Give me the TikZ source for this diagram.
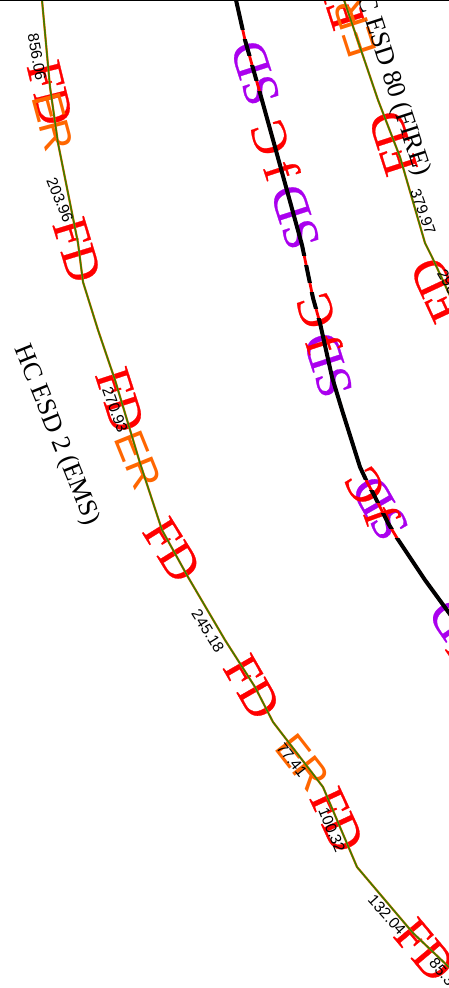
\documentclass[tikz,border=0pt]{standalone}
\usepackage{fontspec}
\setmainfont{Liberation Serif}
\newfontfamily\arialf{Liberation Sans}
\newfontfamily\fatserif[FakeBold=0.5]{Liberation Serif}
\definecolor{lineorange}{HTML}{FF6600}
\definecolor{linegreen}{HTML}{3A7D00}
\definecolor{sdpurple}{HTML}{AA00EE}
\tikzset{
  fdtext/.style={inner sep=0pt,text=red,font=\fatserif\fontsize{50}{50}\selectfont},
  ertext/.style={inner sep=0pt,text=lineorange,font=\arialf\fontsize{42}{42}\selectfont},
  sdtext/.style={inner sep=0pt,text=sdpurple,font=\fatserif\fontsize{50}{50}\selectfont},
  fctext/.style={inner sep=0pt,text=red,font=\fatserif\fontsize{50}{50}\selectfont},
  lenlabel/.style={inner sep=0pt,text=black,font=\arialf\fontsize{15.5}{15.5}\selectfont},
  esdlabel/.style={inner sep=0pt,text=black,font=\fontsize{26.5}{26.5}\selectfont},
  routeunder/.style={draw=lineorange,line width=2.2pt,line join=round},
  routeover/.style={draw=linegreen,line width=1.5pt,line join=round},
  mainred/.style={draw=red,line width=2.8pt,line join=round},
  mainblack/.style={draw=black,line width=4pt,line join=round}
}
\def\routeA{(42,0) -- (50,87) -- (58,143) -- (78,243) -- (83,282) -- (98,330) -- (115,380) -- (140,463) -- (162,530) -- (188,577) -- (225,640) -- (255,687) -- (273,722) -- (323,787) -- (337,820) -- (357,867) -- (413,933) -- (452,970)}
\def\routeB{(344,0) -- (378,100) -- (400,157) -- (425,243) -- (432,257) -- (452,300)}
\def\mainline{(236,0) -- (245,40) -- (260,93) -- (275,147) -- (302,245) -- (313,298) -- (320,323) -- (332,377) -- (342,410) -- (360,467) -- (367,482) -- (373,493) -- (388,523) -- (397,538) -- (425,580) -- (452,617)}
\begin{document}
\begin{tikzpicture}[x=1pt,y=-1pt]
\path[use as bounding box,clip] (0,0) rectangle (449,988);
\fill[white] (0,0) rectangle (449,988);
% left route labels
\node[fdtext,rotate=-76] (fda) at (50,93) {FD};
\node[fdtext,rotate=-73] (fdb) at (77,250) {FD};
\node[fdtext,rotate=-72] (fdc) at (120,400) {FD};
\node[fdtext,rotate=-58] (fdd) at (172,550) {FD};
\node[fdtext,rotate=-60] (fde) at (252,687) {FD};
\node[fdtext,rotate=-65] (fdf) at (337,820) {FD};
\node[fdtext,rotate=-50] (fdg) at (425,950) {FD};
\node[ertext,rotate=-75] (era) at (53,122) {ER};
\node[ertext,rotate=-68] (erb) at (138,460) {ER};
\node[ertext,rotate=-52] (erc) at (303,763) {ER};
% right route labels
\node[fdtext,rotate=108] (fdh) at (340,-3) {FD};
\node[ertext,rotate=108] (erd) at (355,28) {ER};
\node[fdtext,rotate=108] (fdi) at (393,143) {FD};
\node[fdtext,rotate=115] (fdj) at (437,290) {FD};
% main line labels
\node[sdtext,rotate=108] (sda) at (255,73) {SD};
\node[fctext,rotate=108] (ca) at (270,138) {C};
\node[fctext,rotate=-72] (fa) at (282,170) {f};
\node[sdtext,rotate=108] (sdb) at (295,217) {SD};
\node[sdtext,rotate=108] (sdc) at (328,365) {SD};
\node[fctext,rotate=108] (cb) at (316,311) {C};
\node[fctext,rotate=-72] (fb) at (324,344) {f};
\node[sdtext,rotate=120] (sdd) at (380,508) {SD};
\node[fctext,rotate=120] (cc) at (365,486) {C};
\node[fctext,rotate=-70] (fc) at (382,515) {f};
\node[sdtext,rotate=125] (sde) at (458,631) {SD};
\node[fctext,rotate=-55] (fd) at (463,645) {f};
% routes
\draw[routeunder] \routeA;
\draw[routeover] \routeA;
\draw[routeunder] \routeB;
\draw[routeover] \routeB;
\draw[mainred] \mainline;
\foreach \ya/\yb in {-2/29,39/55,65/80,91/255,265/282,292/308,318/479,490/502,513/528,538/640}{
  \begin{scope}
    \clip (200,\ya) rectangle (460,\yb);
    \draw[mainblack] \mainline;
  \end{scope}
}
% numbers and titles
\node[lenlabel,rotate=-80] (la) at (37,57) {856.06};
\node[lenlabel,rotate=-68] (lb) at (60,200) {203.96};
\node[lenlabel,rotate=-70] (lc) at (115,410) {270.93};
\node[lenlabel,rotate=-58] (ld) at (208,631) {245.18};
\node[lenlabel,rotate=-52] (le) at (292,760) {77.41};
\node[lenlabel,rotate=-68] (lf) at (332,830) {100.32};
\node[lenlabel,rotate=-48] (lg) at (387,915) {132.04};
\node[lenlabel,rotate=-50] (lh) at (445,975) {85.35};
\node[lenlabel,rotate=-70] (li) at (423,212) {379.97};
\node[lenlabel,rotate=-60] (lj) at (453,291) {296.41};
\node[esdlabel,rotate=-68] (ta) at (56,435) {HC ESD 2 (EMS)};
\node[esdlabel,rotate=-72] (tb) at (390,76) {HC ESD 80 (FIRE)};
\draw[black,line width=1.4pt] (0,0.6) -- (449,0.6);
\end{tikzpicture}
\end{document}
